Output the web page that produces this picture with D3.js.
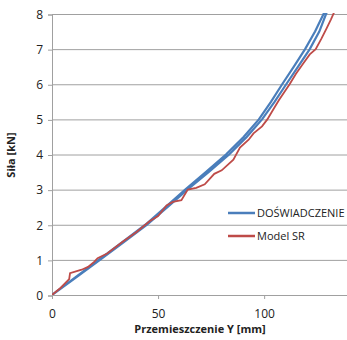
<!DOCTYPE html>
<html lang="pl">
<head>
<meta charset="utf-8">
<script src="https://d3js.org/d3.v7.min.js"></script>
<style>
body { margin: 0; background: #fff; }
text { font-family: "Open Sans", "Noto Sans", sans-serif; fill: #222; }
</style>
</head>
<body>
<div id="chart"></div>
<script>
// loading / unloading branches of the test (one loop)
var blueX = [0, 11, 22, 33, 44, 53.5, 62.8, 72.5, 82, 90.3, 97.5, 103.2, 108.5, 114, 119.3, 124, 128,
             129.2, 126, 121.5, 116, 110.4, 104.9, 99, 91.8, 83.5, 73.8, 63.8, 54.4, 44.8, 33.7, 22.6, 11.4, 0];
var blueY = [0, 0.5, 1, 1.5, 2, 2.5, 3, 3.5, 4, 4.5, 5, 5.5, 6, 6.5, 7, 7.5, 8,
             8, 7.5, 7, 6.5, 6, 5.5, 5, 4.5, 4, 3.5, 3, 2.5, 2, 1.5, 1, 0.5, 0];
// model
var redX = [0, 4, 8.1, 8.5, 14, 17, 20, 21.5, 26, 33, 40, 46, 50, 54, 57, 61, 64, 68, 72, 76.5, 80, 85.5,
            88.6, 92.7, 95, 99, 101.5, 104.5, 107, 112, 115, 118.5, 121.5, 124.3, 127, 129.5, 131.5, 133];
var redY = [0, 0.2, 0.45, 0.62, 0.72, 0.8, 0.95, 1.05, 1.18, 1.5, 1.8, 2.1, 2.25, 2.55, 2.65, 2.7, 3.0, 3.05,
            3.15, 3.45, 3.55, 3.85, 4.2, 4.42, 4.6, 4.8, 5.0, 5.3, 5.55, 6.0, 6.3, 6.6, 6.85, 7.0, 7.3, 7.6, 7.85, 8.05];
var seriesNames = ["DOŚWIADCZENIE", "Model SR"];
var seriesColors = ["#4a7ebb", "#be4b48"];
var xTicks = [0, 50, 100];
var yTicks = [0, 1, 2, 3, 4, 5, 6, 7, 8];

var width = 347, height = 340;
var mLeft = 52, mTop = 14, mBottom = 295;

var svg = d3.select("#chart").append("svg")
  .attr("width", width)
  .attr("height", height);

var x = d3.scaleLinear().domain([0, 140]).range([mLeft, 349]);
var y = d3.scaleLinear().domain([0, 8]).range([mBottom, mTop]);

svg.append("clipPath").attr("id", "clip")
  .append("rect").attr("x", mLeft).attr("y", mTop - 1).attr("width", width - mLeft).attr("height", mBottom - mTop + 1);

// gridlines
svg.selectAll(".grid").data(yTicks.slice(1)).enter().append("line")
  .attr("x1", mLeft).attr("x2", width)
  .attr("y1", function(d) { return y(d) + 0.5; }).attr("y2", function(d) { return y(d) + 0.5; })
  .style("stroke", "#a0a0a0").style("stroke-width", 1);

// axes
var yAxis = svg.append("g").attr("transform", "translate(" + mLeft + ",0.5)")
  .call(d3.axisLeft(y).tickValues(yTicks).tickSize(4).tickPadding(5));
var xAxis = svg.append("g").attr("transform", "translate(0," + mBottom + ")")
  .call(d3.axisBottom(x).tickValues(xTicks).tickSize(4).tickPadding(10));
[xAxis, yAxis].forEach(function(a) {
  a.select(".domain").style("stroke", "#a0a0a0");
  a.selectAll(".tick line").style("stroke", "#a0a0a0");
  a.selectAll(".tick text").style("font-size", "12px").style("fill", "#222")
    .style("font-family", "'Open Sans', sans-serif");
});

var line = d3.line()
  .x(function(d) { return x(d[0]); })
  .y(function(d) { return y(d[1]); });

var blue = blueX.map(function(v, i) { return [v, blueY[i]]; });
var red = redX.map(function(v, i) { return [v, redY[i]]; });

var g = svg.append("g").attr("clip-path", "url(#clip)");
g.append("path").datum(blue).attr("d", line)
  .style("fill", "none").style("stroke", seriesColors[0]).style("stroke-width", 2.2);
g.append("path").datum(red).attr("d", line)
  .style("fill", "none").style("stroke", seriesColors[1]).style("stroke-width", 1.8);

// titles
svg.append("text")
  .attr("x", 200).attr("y", 333)
  .attr("text-anchor", "middle")
  .style("font-size", "11px").style("font-weight", "bold")
  .text("Przemieszczenie Y [mm]");
svg.append("text")
  .attr("transform", "translate(15,155) rotate(-90)")
  .attr("text-anchor", "middle")
  .style("font-size", "11px").style("font-weight", "bold")
  .text("Siła [kN]");

// legend
var leg = svg.selectAll(".leg").data(seriesNames).enter().append("g")
  .attr("transform", function(d, i) { return "translate(228," + (213 + i * 23) + ")"; });
leg.append("line").attr("x1", 0).attr("x2", 27)
  .style("stroke", function(d, i) { return seriesColors[i]; })
  .style("stroke-width", 2.5);
leg.append("text").attr("x", 29).attr("dy", "0.35em")
  .style("font-size", "11px")
  .text(function(d) { return d; });
</script>
</body>
</html>
